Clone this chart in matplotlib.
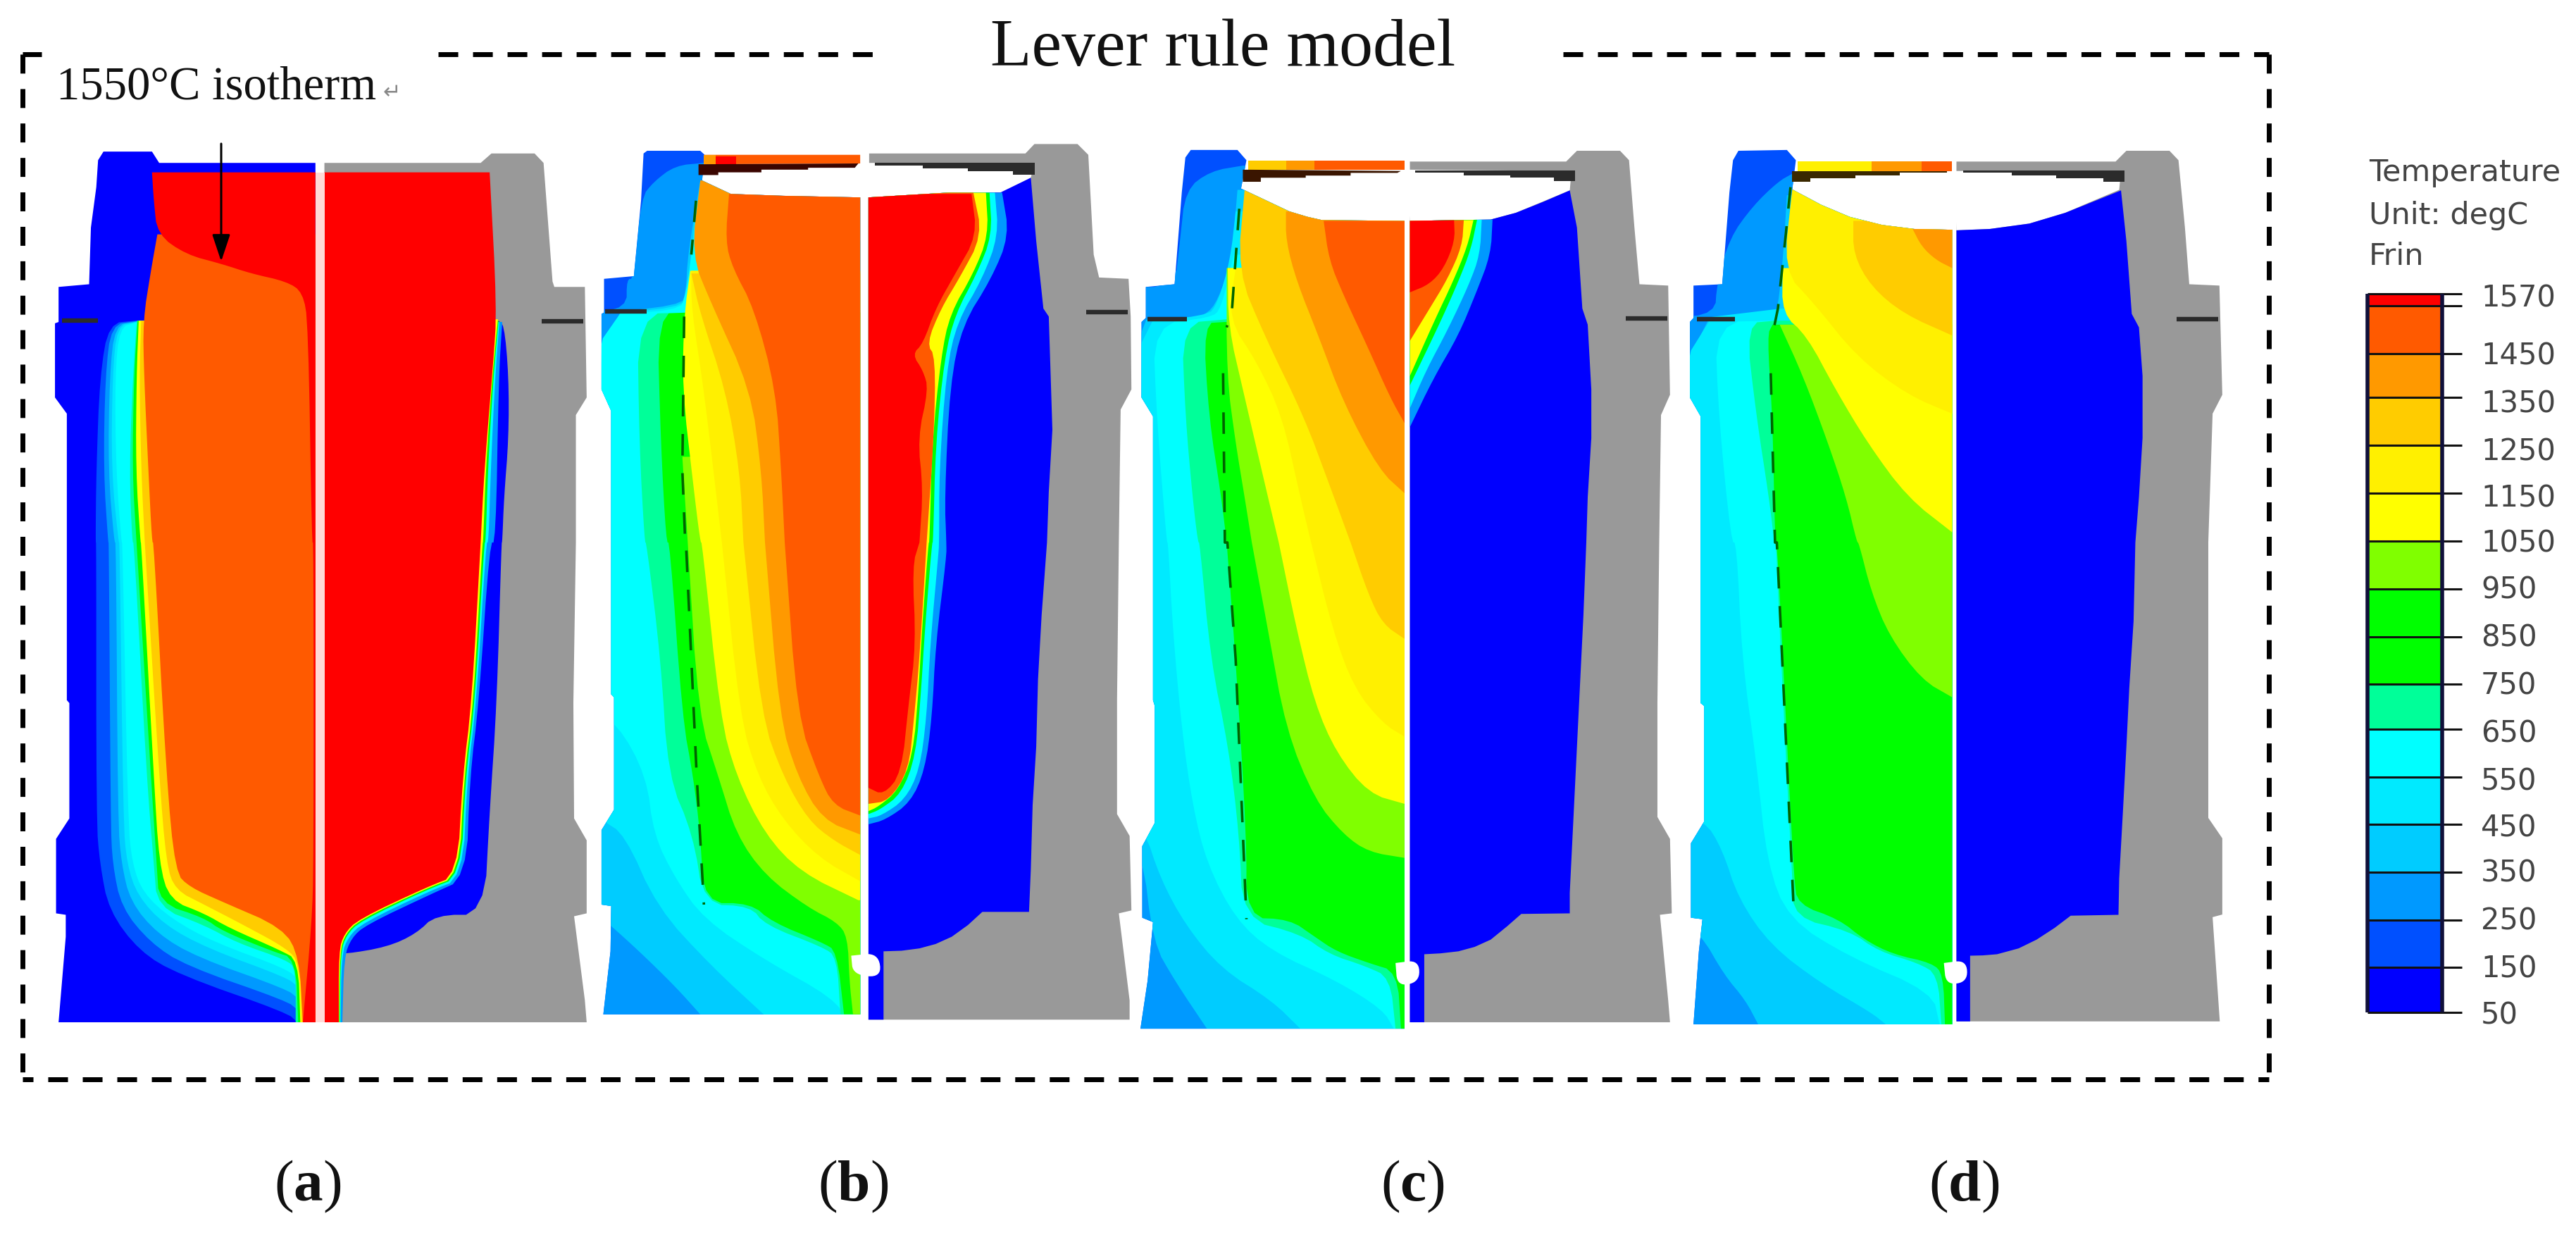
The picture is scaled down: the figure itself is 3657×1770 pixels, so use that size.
import matplotlib
matplotlib.use("Agg")
import matplotlib.pyplot as plt
from matplotlib.patches import Polygon

plt.rcParams['font.family'] = ['Liberation Serif', 'DejaVu Sans']
plt.rcParams['mathtext.fontset'] = 'custom'
plt.rcParams['mathtext.rm'] = 'Liberation Serif'
plt.rcParams['mathtext.bf'] = 'Liberation Serif:bold'
plt.rcParams['lines.scale_dashes'] = False

# ---------- legend data ----------
LEGEND_LEVELS = [1570, 1550, 1450, 1350, 1250, 1150, 1050, 950, 850, 750, 650, 550, 450, 350, 250, 150, 50]
LEGEND_EDGES = [417, 434, 502, 564, 632, 700, 768, 836, 904, 971, 1035, 1103, 1170, 1238, 1306, 1373, 1437]
LEGEND_LABEL_Y = [424, None, 505, 573, 641, 708, 772, 838, 906, 973, 1041, 1109, 1176, 1240, 1308, 1375, 1442]
BAND_COLORS = ['#ff0000', '#ff5a00', '#ff9900', '#ffcc00', '#fff000', '#ffff00', '#80ff00', '#00ff00',
               '#00ff00', '#00ff99', '#00ffff', '#00eaff', '#00ccff', '#0099ff', '#0050ff', '#0000ff']
LEGEND_TITLE = ['Temperature', 'Unit: degC', 'Frin']
PANEL_LABELS = ['a', 'b', 'c', 'd']
GRAY = '#999999'
C = dict(zip([1550, 1450, 1350, 1250, 1150, 1050, 950, 850, 750, 650, 550, 450, 350, 250, 150, 50], BAND_COLORS))

# traced outlines: x in crop units, y converted to pixels by T (upper crop) and B (lower crop)
def T(pts):
    return [(x, 170 + 0.3827 * y) for x, y in pts]
def B(pts):
    return [(x, 770 + 0.4145 * y) for x, y in pts]

X0 = {'a': 50, 'b': 780, 'c': 1540, 'd': 2320}

# ---------- panel a ----------
A_L_SIL = T([(175,150),(190,118),(325,118),(345,160),(780,160)]) + B([(780,1643),(65,1643),(85,1350),(85,1275),(58,1270),(58,1015),(95,945),(95,550),(88,540),(88,0)]) + T([(88,1090),(55,1030),(55,755),(65,750),(65,620),(150,610),(155,400),(170,250)])
A_L = [
 (150, T([(280,745),(205,755),(180,950),(170,1300),(168,1568)]) + B([(170,0),(170,950),(180,1100),(205,1260),(290,1400),(400,1480),(700,1610),(730,1643)])),
 (250, T([(280,747),(212,760),(195,950),(190,1300),(203,1568)]) + B([(205,0),(210,950),(215,1100),(240,1250),(320,1370),(420,1450),(700,1570),(730,1600)])),
 (350, T([(280,749),(222,762),(207,950),(203,1300),(220,1568)]) + B([(225,0),(230,950),(240,1100),(265,1230),(340,1340),(450,1420),(700,1530),(730,1560)])),
 (450, T([(280,750),(228,765),(215,950),(212,1300),(232,1568)]) + B([(235,0),(245,950),(255,1100),(285,1210),(360,1310),(480,1390),(700,1490),(730,1520)])),
 (550, T([(280,752),(235,770),(222,950),(225,1300),(240,1568)]) + B([(243,0),(258,950),(270,1100),(300,1200),(380,1290),(500,1370),(700,1460),(735,1500)])),
 (650, T([(283,745),(272,950),(262,1300),(270,1568)]) + B([(275,0),(310,800),(330,1100),(340,1250),(470,1310),(560,1370),(700,1430),(725,1460),(725,1643)])),
 (850, T([(285,745),(275,950),(270,1300),(282,1568)]) + B([(282,0),(322,800),(338,1100),(345,1235),(470,1285),(520,1330),(660,1400),(725,1425),(732,1643)])),
 (1050, T([(288,745),(282,950),(280,1300),(293,1568)]) + B([(295,0),(330,800),(345,1100),(375,1225),(470,1270),(540,1320),(680,1395),(732,1430),(738,1643)])),
 (1250, T([(295,745),(290,950),(295,1300),(305,1568)]) + B([(305,0),(345,800),(365,1100),(390,1190),(470,1240),(580,1310),(700,1390),(735,1440),(742,1643)])),
 (1450, T([(340,425),(322,560),(300,745),(303,950),(315,1300),(325,1568)]) + B([(330,0),(365,800),(390,1130),(430,1180),(520,1230),(690,1320),(735,1420),(745,1643)])),
 (1550, T([(325,195),(330,300),(340,425),(420,500),(520,535),(600,570),(700,600),(745,640),(760,760),(770,1568)]) + B([(775,0),(775,1100),(770,1300),(745,1643)])),
]
A_R_SIL = T([(805,160),(1240,160),(1270,125),(1390,125),(1415,160),(1440,600),(1445,620),(1530,620),(1535,1030),(1505,1095)]) + B([(1505,0),(1498,550),(1500,945),(1535,1020),(1535,1270),(1500,1280),(1530,1568),(1535,1643),(805,1643)])
A_R = [
 (50, T([(1285,745),(1305,755),(1318,950),(1318,1180),(1305,1400),(1300,1568)]) + B([(1298,0),(1285,550),(1265,920),(1250,1275),(1115,1275),(1060,1340),(980,1385),(860,1410),(850,1400)])),
 (250, T([(1300,750),(1290,960),(1282,1568)]) + B([(1265,0),(1235,550),(1210,800),(1200,1150),(1100,1205),(920,1310),(880,1355),(860,1420),(855,1643)])),
 (550, T([(1292,750),(1280,960),(1268,1300),(1262,1568)]) + B([(1255,0),(1228,550),(1203,800),(1190,1150),(1095,1195),(912,1303),(872,1350),(853,1410),(850,1643)])),
 (850, T([(1290,745),(1275,960),(1260,1300),(1254,1568)]) + B([(1250,0),(1224,550),(1198,800),(1185,1145),(1092,1188),(905,1297),(866,1345),(850,1405),(848,1643)])),
 (1050, T([(1288,740),(1272,960),(1254,1300),(1247,1568)]) + B([(1245,0),(1220,550),(1194,800),(1180,1143),(1090,1184),(902,1293),(863,1342),(848,1402),(846,1643)])),
 (1550, T([(1265,195),(1285,700),(1275,900),(1250,1300),(1240,1568)]) + B([(1240,0),(1215,550),(1190,800),(1175,1140),(1090,1180),(900,1290),(860,1340),(845,1400),(845,1643)])),
]
A_STRIP = T([(780,195),(805,195)]) + B([(805,1643),(780,1643)])

# ---------- panel b ----------
B_L_SIL = T([(262,125),(272,115),(420,115),(432,130),(425,225),(505,275),(650,282),(865,288)]) + B([(865,1616),(150,1616),(170,1400),(172,1245),(145,1240),(145,985),(180,915),(180,530),(172,520),(172,0)]) + T([(172,1080),(145,1000),(145,720),(152,715),(152,590),(235,580),(255,300)])
B_L = [
 (250, T([(430,160),(350,170),(290,230),(255,290),(235,590),(215,590),(215,700),(100,715)]) + B([(100,1700)])),
 (350, T([(420,225),(385,500),(380,640),(365,690),(100,720)]) + B([(100,1240),(160,1300),(250,1400),(350,1520),(420,1616)])),
 (450, T([(410,300),(385,640),(365,700),(100,720)]) + B([(100,900),(145,950),(210,1000),(300,1250),(450,1450),(600,1620)])),
 (550, T([(400,450),(380,650),(360,710),(100,722)]) + B([(100,560),(190,620),(270,800),(290,1000),(350,1150),(430,1290),(600,1430),(790,1560),(830,1640)])),
 (650, T([(395,715),(245,720),(250,1200),(265,1568)]) + B([(270,0),(310,400),(330,800),(400,1000),(430,1240),(560,1245),(600,1310),(760,1385),(800,1420),(810,1616)])),
 (850, T([(385,715),(300,720),(310,1200),(325,1568)]) + B([(335,0),(370,600),(400,800),(420,1000),(430,1235),(560,1235),(620,1300),(760,1370),(800,1400),(820,1616)])),
 (950, T([(370,1250),(385,1568)]) + B([(385,0),(415,594),(470,800),(520,1000),(600,1140),(720,1250),(800,1300),(830,1350),(835,1500),(845,1616)])),
 (1050, T([(392,560),(375,725),(370,1000),(400,1350),(420,1568)]) + B([(425,0),(475,594),(520,800),(600,1000),(700,1130),(860,1225)])),
 (1150, T([(395,560),(395,700),(430,1000),(480,1568)]) + B([(480,0),(530,594),(580,800),(650,950),(750,1080),(865,1160)])),
 (1250, T([(395,570),(420,720),(490,1000),(530,1300),(540,1568)]) + B([(540,0),(590,594),(650,800),(720,950),(790,1020),(865,1070)])),
 (1350, T([(420,225),(395,500),(450,680),(560,1000),(590,1300),(600,1568)]) + B([(600,0),(640,594),(690,800),(760,950),(865,1000)])),
 (1450, T([(500,275),(490,450),(510,550),(570,700),(630,1000),(645,1300),(655,1568)]) + B([(655,0),(690,594),(750,800),(790,900),(865,935)])),
]
B_R_SIL = T([(890,125),(1325,125),(1350,90),(1470,90),(1500,130),(1515,500),(1530,585),(1612,590),(1618,730),(1620,1000),(1590,1075)]) + B([(1585,0),(1580,540),(1580,930),(1615,1005),(1620,1260),(1585,1270),(1615,1568),(1615,1634),(888,1634)])
B_CAV = T([(885,160),(1350,160),(1340,215),(1260,270),(1110,270),(888,288)])
B_DARK = T([(905,160),(1350,160),(1350,205),(1290,205),(1290,190),(1165,190),(1165,180),(1040,180),(1040,170),(905,170)])
B_BLUE = T([(888,288),(1110,270),(1255,270),(1340,215),(1355,450),(1375,700),(1390,730),(1400,1150),(1390,1380),(1385,1568)]) + B([(1385,0),(1370,250),(1360,470),(1355,700),(1345,900),(1340,1120),(1335,1265),(1205,1265),(1165,1310),(1120,1350),(1075,1375),(1030,1390),(980,1398),(930,1400),(930,1634),(888,1634)])
B_R = [
 (250, T([(1260,270),(1280,430),(1230,590),(1150,760),(1115,980),(1100,1400),(1105,1568)]) + B([(1105,50),(1075,350),(1065,600),(1045,780),(1005,890),(935,950),(888,965)])),
 (550, T([(1240,270),(1250,430),(1205,590),(1135,750),(1105,930),(1085,1300),(1085,1568)]) + B([(1082,50),(1060,350),(1050,600),(1030,780),(990,880),(925,935),(888,945)])),
 (850, T([(1225,270),(1232,430),(1190,570),(1130,720),(1100,880),(1075,1200),(1068,1568)]) + B([(1065,0),(1045,300),(1035,500),(1020,730),(980,860),(920,915),(888,930)])),
 (1050, T([(1215,270),(1222,430),(1180,570),(1115,720),(1090,880),(1065,1200),(1058,1568)]) + B([(1055,0),(1037,300),(1028,500),(1012,730),(970,850),(915,905),(888,920)])),
 (1450, T([(1180,270),(1205,430),(1140,590),(1090,700),(1050,830),(1075,880),(1070,1180),(1050,1568)]) + B([(1050,0),(1030,400),(1015,600),(1000,780),(945,885),(888,895)])),
 (1550, T([(1175,275),(1190,430),(1130,570),(1075,700),(1040,830),(1010,870),(1040,930),(1055,1000),(1025,1180),(1040,1370),(1030,1568)]) + B([(1030,0),(1010,80),(1020,350),(1000,550),(980,790),(930,865),(888,840)])),
]
B_CAP = [(1450, T([(430,130),(865,130),(865,162),(430,165)])), (1350, T([(430,130),(462,130),(462,165),(430,165)])), (1550, T([(462,135),(520,135),(520,165),(462,165)]))]
B_CAP_DARK = T([(415,165),(860,162),(850,178),(720,178),(720,185),(590,185),(590,195),(470,195),(470,205),(415,205)])
B_NOTCH = B([(840,1415),(915,1405),(925,1490),(845,1480)])
B_WALL = T([(375,730),(370,1300),(378,1568)]) + B([(380,0),(395,400),(410,800),(430,1240)])
B_WALL_TOP = T([(408,300),(395,500)])

# ---------- panel c ----------
C_L_SIL = T([(280,140),(295,112),(425,112),(450,150),(435,255),(570,340),(620,360),(660,372),(890,375)]) + B([(890,1665),(155,1665),(175,1500),(190,1300),(160,1285),(160,1040),(195,960),(195,560),(190,540),(190,0)]) + T([(190,1100),(158,1030),(158,750),(170,735),(170,620),(250,610),(270,270)])
C_L = [
 (250, T([(440,170),(350,190),(280,260),(265,450),(250,620),(100,620)]) + B([(100,1700)])),
 (350, T([(425,260),(410,500),(380,640),(345,720),(290,735),(100,745)]) + B([(100,1040),(160,1060),(190,1370),(250,1500),(340,1665)])),
 (450, T([(420,340),(405,520),(370,680),(340,730),(100,750)]) + B([(100,950),(165,980),(210,1150),(280,1310),(380,1460),(520,1568),(600,1665)])),
 (550, T([(415,500),(380,700),(350,735),(190,757),(200,1100),(228,1568)]) + B([(232,0),(245,300),(270,640),(300,900),(340,1100),(420,1290),(520,1400),(700,1500),(830,1600),(860,1665)])),
 (650, T([(395,740),(270,755),(280,1100),(300,1400),(315,1568)]) + B([(320,0),(350,400),(400,700),(430,1000),(440,1290),(600,1340),(680,1410),(780,1450),(850,1490),(865,1665)])),
 (850, T([(390,750),(330,755),(345,1100),(380,1400),(395,1568)]) + B([(395,0),(420,400),(450,1000),(450,1285),(570,1290),(640,1350),(700,1400),(790,1440),(870,1470),(880,1665)])),
 (950, T([(395,550),(395,950),(420,1200),(445,1400),(465,1568)]) + B([(465,0),(510,300),(560,640),(640,880),(720,1000),(790,1060),(890,1080)])),
 (1050, T([(398,550),(400,770),(440,1000),(475,1200),(510,1400),(540,1568)]) + B([(540,0),(590,300),(640,550),(700,720),(790,860),(890,895)])),
 (1150, T([(420,550),(400,740),(480,900),(550,1100),(600,1400),(630,1568)]) + B([(630,0),(690,300),(750,500),(830,620),(890,665)])),
 (1250, T([(445,258),(425,560),(500,800),(610,1100),(680,1350),(740,1568)]) + B([(740,0),(790,180),(830,280),(890,330)])),
 (1350, T([(560,340),(560,450),(590,600),(650,800),(720,1050),(820,1300),(890,1385)])),
 (1450, T([(665,375),(680,520),(720,650),(790,850),(850,1030),(890,1125)])),
]
C_R_SIL = T([(905,155),(1340,155),(1370,115),(1490,115),(1515,150),(1530,400),(1544,610),(1624,615),(1629,1020),(1604,1095)]) + B([(1599,0),(1594,550),(1594,940),(1629,1015),(1634,1270),(1601,1275),(1624,1568),(1629,1643),(905,1643)])
C_CAV = T([(895,185),(1355,190),(1350,262),(1200,345),(1130,370),(905,375)])
C_DARK = T([(920,188),(1365,188),(1365,228),(1305,228),(1305,215),(1185,215),(1185,207),(1055,207),(1055,197),(920,197)])
C_BLUE = T([(905,375),(1130,370),(1200,345),(1275,305),(1350,262),(1370,400),(1385,700),(1400,760),(1410,1000),(1410,1180),(1400,1400),(1396,1568)]) + B([(1396,0),(1388,250),(1378,500),(1370,700),(1360,950),(1350,1200),(1350,1270),(1215,1272),(1175,1315),(1130,1360),(1085,1385),(1040,1400),(990,1407),(945,1410),(945,1643),(905,1643)])
C_R = [
 (250, T([(1135,370),(1130,500),(1090,640),(1040,800),(970,960),(905,1140)])),
 (550, T([(1105,370),(1100,500),(1070,610),(1010,780),(950,930),(905,1070)])),
 (850, T([(1092,370),(1075,480),(1040,600),(990,750),(905,985)])),
 (1050, T([(1082,372),(1065,470),(1025,600),(975,740),(905,950)])),
 (1450, T([(1055,372),(1050,470),(1010,590),(960,700),(905,820)])),
 (1550, T([(1028,372),(1030,450),(1000,550),(960,610),(905,640)])),
]
C_CAP = [(1250, T([(455,152),(890,152),(890,185),(455,185)])), (1350, T([(560,152),(890,152),(890,185),(560,185)])), (1450, T([(640,152),(890,152),(890,185),(640,185)]))]
C_CAP_DARK = T([(440,185),(880,190),(870,197),(740,197),(740,207),(615,207),(615,215),(490,215),(490,230),(440,230)])
C_NOTCH = B([(865,1440),(930,1430),(932,1505),(870,1520)])
C_WALL = T([(385,940),(390,1568)]) + B([(397,0),(420,400),(450,1290)])
C_WALL_TOP = T([(430,330),(410,700),(395,770)])

# ---------- panel d ----------
D_L_SIL = T([(275,150),(290,115),(425,112),(450,150),(440,258),(520,315),(600,360),(690,390),(780,405),(885,408)]) + B([(885,1650),(165,1650),(180,1400),(190,1290),(158,1285),(158,1030),(195,955),(195,560),(185,550),(185,0)]) + T([(185,1100),(155,1030),(155,750),(165,735),(165,615),(245,610),(265,270)])
D_L = [
 (250, T([(440,200),(400,230),(330,320),(265,440),(230,610),(225,720),(100,735)]) + B([(100,1700)])),
 (350, T([(425,280),(415,500),(400,700),(385,735),(100,745)]) + B([(100,1270),(185,1340),(250,1480),(310,1568),(345,1650)])),
 (450, T([(410,700),(100,750)]) + B([(100,940),(195,950),(245,1050),(290,1220),(380,1380),(520,1510),(660,1610),(700,1650)])),
 (550, T([(395,745),(225,750),(235,1100),(270,1568)]) + B([(285,0),(300,400),(340,750),(370,1100),(430,1290),(600,1420),(830,1540),(850,1650)])),
 (650, T([(395,745),(310,755),(340,1100),(375,1400),(390,1568)]) + B([(395,0),(405,300),(425,800),(440,1150),(445,1285),(600,1330),(680,1400),(790,1440),(845,1480),(855,1650)])),
 (850, T([(385,760),(370,800),(385,1100),(392,1568)]) + B([(397,0),(410,300),(430,800),(445,1150),(455,1240),(570,1290),(640,1360),(720,1410),(830,1440),(860,1480),(865,1650)])),
 (950, T([(405,760),(470,950),(540,1200),(590,1400),(620,1568)]) + B([(625,0),(660,170),(710,320),(800,470),(885,530)])),
 (1050, T([(413,550),(412,720),(480,800),(560,1000),(650,1200),(760,1400),(885,1530)])),
 (1150, T([(440,258),(415,560),(500,680),(620,880),(760,1020),(885,1090)])),
 (1250, T([(610,375),(610,500),(660,620),(750,720),(885,800)])),
 (1350, T([(775,405),(800,470),(840,520),(885,550)])),
]
D_R_SIL = T([(897,155),(1340,155),(1370,115),(1490,115),(1515,150),(1533,400),(1545,610),(1629,615),(1637,1020),(1610,1090)]) + B([(1598,0),(1598,545),(1598,943),(1637,1013),(1637,1274),(1610,1283),(1630,1640),(897,1640)])
D_CAV = T([(890,190),(1355,190),(1350,260),(1270,305),(1200,345),(1100,385),(990,405),(897,410)])
D_DARK = T([(915,188),(1365,188),(1365,230),(1305,230),(1305,217),(1175,217),(1175,207),(1050,207),(1050,197),(915,197)])
D_BLUE = T([(897,410),(990,405),(1100,385),(1200,345),(1275,305),(1355,262),(1370,450),(1385,720),(1405,770),(1415,950),(1415,1180),(1405,1400),(1395,1568)]) + B([(1395,0),(1390,270),(1378,500),(1370,700),(1360,930),(1350,1150),(1348,1275),(1215,1278),(1170,1320),(1120,1360),(1070,1390),(1010,1410),(970,1414),(935,1415),(935,1640),(897,1640)])
D_CAP = [(1150, T([(455,155),(885,155),(885,190),(455,190)])), (1350, T([(660,155),(885,155),(885,190),(660,190)])), (1450, T([(800,155),(885,155),(885,190),(800,190)]))]
D_CAP_DARK = T([(440,190),(870,190),(870,197),(740,197),(740,207),(615,207),(615,217),(490,217),(490,230),(440,230)])
D_NOTCH = B([(862,1440),(925,1430),(928,1505),(868,1515)])
D_WALL = T([(380,940),(392,1568)]) + B([(397,0),(445,1285)])
D_WALL_TOP = T([(435,250),(420,450),(400,700),(390,765)])

# small dark marks: (panel, x from, x to, crop y)
MARKS = [('a',75,175,745),('a',1410,1525,748),('b',155,270,710),('b',1495,1610,713),
         ('c',175,285,740),('c',1505,1622,738),('d',175,280,740),('d',1510,1625,740)]

# ---------- helpers ----------
def chaikin(pts, n=2):
    for _ in range(n):
        out = [pts[0]]
        for (x1, y1), (x2, y2) in zip(pts[:-1], pts[1:]):
            out.append((0.75*x1+0.25*x2, 0.75*y1+0.25*y2))
            out.append((0.25*x1+0.75*x2, 0.25*y1+0.75*y2))
        out.append(pts[-1])
        pts = out
    return pts

fig = plt.figure(figsize=(36.57, 17.70), dpi=100)
ax = fig.add_axes([0, 0, 1, 1])
ax.set_xlim(0, 3657)
ax.set_ylim(1770, 0)
ax.axis('off')

def px(panel, pts):
    return [(X0[panel] + 0.51*x, y) for x, y in pts]

def poly(panel, pts, color, z=2, clip=None):
    p = Polygon(px(panel, pts), closed=True, facecolor=color, edgecolor='none', zorder=z)
    ax.add_patch(p)
    if clip is not None:
        p.set_clip_path(clip)
    return p

def half(panel, sil, base, contours, cx, z=2):
    clip = poly(panel, sil, base, z)
    for level, pts in contours:
        s = chaikin(pts) if len(pts) > 2 else pts
        closed = s + [(cx, s[-1][1]), (cx, s[0][1])]
        poly(panel, closed, C[level], z, clip)

def wall(panel, pts):
    ax.plot(*zip(*px(panel, pts)), color='#006400', lw=2.6, ls=(0, (22, 18)), zorder=3)

def notch(panel, pts):
    closed = pts + pts[:1]
    poly(panel, chaikin(closed, 3), 'white', 5)

# panel a
half('a', A_L_SIL, C[50], A_L, 785)
half('a', A_R_SIL, GRAY, A_R, 800)
poly('a', A_STRIP, '#ffd9d6')

# panel b
half('b', B_L_SIL, C[150], B_L, 870)
for lev, pts in B_CAP:
    poly('b', pts, C[lev])
poly('b', B_CAP_DARK, '#3a0500')
poly('b', B_R_SIL, GRAY)
poly('b', B_CAV, 'white', 3)
poly('b', B_DARK, '#2b2b2b', 4)
half('b', B_BLUE, C[50], B_R, 880, 4)
notch('b', B_NOTCH)
wall('b', B_WALL)
wall('b', B_WALL_TOP)

# panel c
half('c', C_L_SIL, C[150], C_L, 895)
for lev, pts in C_CAP:
    poly('c', pts, C[lev])
poly('c', C_CAP_DARK, '#3a1500')
poly('c', C_R_SIL, GRAY)
poly('c', C_CAV, 'white', 3)
poly('c', C_DARK, '#2b2b2b', 4)
half('c', C_BLUE, C[50], C_R, 898, 4)
notch('c', C_NOTCH)
wall('c', C_WALL)
wall('c', C_WALL_TOP)

# panel d
half('d', D_L_SIL, C[150], D_L, 890)
for lev, pts in D_CAP:
    poly('d', pts, C[lev])
poly('d', D_CAP_DARK, '#3a2800')
poly('d', D_R_SIL, GRAY)
poly('d', D_CAV, 'white', 3)
poly('d', D_DARK, '#2b2b2b', 4)
half('d', D_BLUE, C[50], [], 892, 4)
notch('d', D_NOTCH)
wall('d', D_WALL)
wall('d', D_WALL_TOP)

for panel, x1, x2, y in MARKS:
    yy = T([(0, y)])[0][1]
    ax.plot([X0[panel]+0.51*x1, X0[panel]+0.51*x2], [yy, yy], color='#2b2b2b', lw=4.6, zorder=6, solid_capstyle='butt')

# dashed frame: 28 px on, 21 px off, 7 px thick
H = (0, (20.2, 15.1))
H_BOTTOM = (9.4, (20.2, 15.1))
V = (0, (19.4, 15.8))
LW = 5.0
for xs, ys, st in [([32, 59], [77, 77], H), ([622, 1240], [77, 77], H), ([2219, 3221], [77, 77], H),
                   ([32, 3221], [1532, 1532], H_BOTTOM), ([32, 32], [77, 1532], V), ([3221, 3221], [77, 1532], V)]:
    ax.plot(xs, ys, color='black', lw=LW, ls=st, zorder=1)

# texts
ax.text(1736, 70, 'Lever rule model', fontsize=69, ha='center', va='center', color='#111111')
ax.text(80, 124, '1550°C isotherm', fontsize=48, ha='left', va='center', color='#111111')
ax.text(556, 132, '↵', fontsize=22, ha='center', va='center', color='#888888', family='DejaVu Sans')
ax.annotate('', xy=(314, 371), xytext=(314, 204),
            arrowprops=dict(arrowstyle='-|>,head_width=0.3,head_length=0.9', color='black', lw=2.2, mutation_scale=26, shrinkA=0, shrinkB=0), zorder=8)
for name, x in zip(PANEL_LABELS, [437, 1211, 2005, 2788]):
    ax.text(x, 1684, '($\\mathbf{%s}$)' % name, fontsize=60, ha='center', va='center', color='#111111')

# legend
LEFT, RIGHT, TICK_END = 3361, 3467, 3495
for i, col in enumerate(BAND_COLORS):
    ax.barh((LEGEND_EDGES[i]+LEGEND_EDGES[i+1])/2, RIGHT-LEFT, left=LEFT,
            height=LEGEND_EDGES[i+1]-LEGEND_EDGES[i], color=col, edgecolor='none', zorder=2)
ax.hlines(LEGEND_EDGES, LEFT, TICK_END, color='#111111', lw=2.2, zorder=3)
ax.vlines([LEFT, RIGHT], LEGEND_EDGES[0], LEGEND_EDGES[-1], color='#10103a', lw=4, zorder=3)
for lev, y in zip(LEGEND_LEVELS, LEGEND_LABEL_Y):
    if y is not None:
        ax.text(3522, y, str(lev), fontsize=30, family='DejaVu Sans', ha='left', va='center', color='#444444')
for s, y in zip(LEGEND_TITLE, [245, 306, 364]):
    ax.text(3363, y, s, fontsize=31, family='DejaVu Sans', ha='left', va='center', color='#444444')

fig.savefig('out.png', dpi=100, facecolor='white')
